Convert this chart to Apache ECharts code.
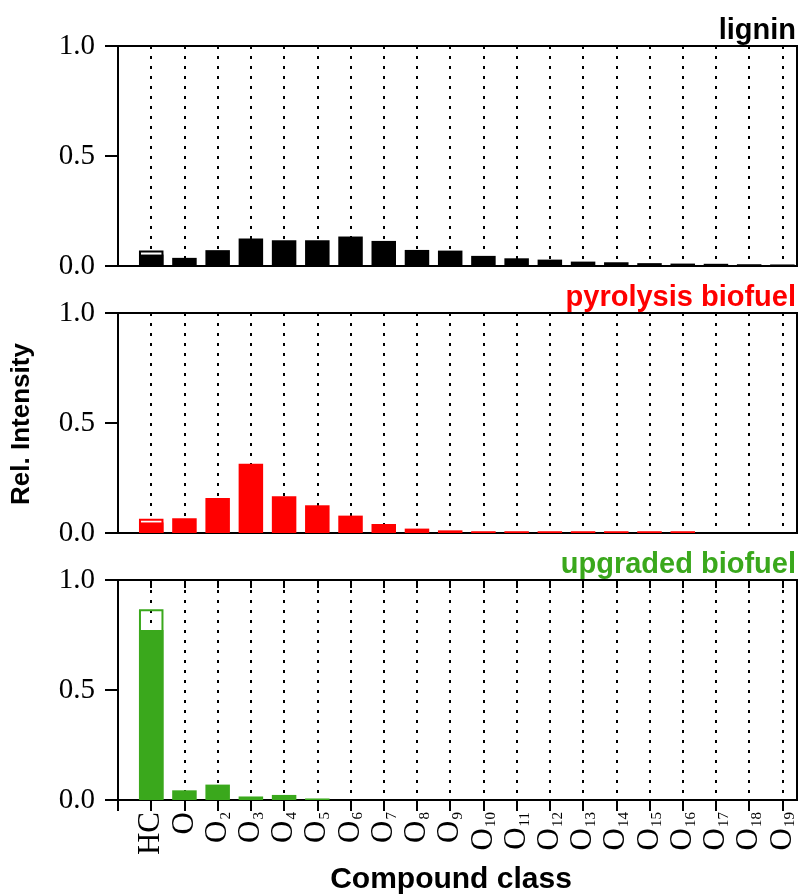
<!DOCTYPE html>
<html>
<head>
<meta charset="utf-8">
<script src="https://cdn.jsdelivr.net/npm/echarts@6/dist/echarts.min.js"></script>
<style>
  html, body { margin: 0; padding: 0; background: #fff; }
  #chart { width: 802px; height: 894px; }
</style>
</head>
<body>
<div id="chart"></div>
<script>
// Compound classes along the x axis
const categories = ['HC', 'O', 'O2', 'O3', 'O4', 'O5', 'O6', 'O7', 'O8', 'O9',
  'O10', 'O11', 'O12', 'O13', 'O14', 'O15', 'O16', 'O17', 'O18', 'O19'];

// Relative intensities (filled bars); HC total shown as an outlined bar
const ligninValues = [0.052, 0.037, 0.072, 0.125, 0.117, 0.117, 0.134, 0.114, 0.073, 0.070,
  0.046, 0.035, 0.029, 0.020, 0.017, 0.013, 0.011, 0.010, 0.008, 0.007];
const ligninHCTotal = 0.071;

const pyrolysisValues = [0.048, 0.067, 0.159, 0.315, 0.167, 0.126, 0.079, 0.041, 0.020, 0.012,
  0.008, 0.008, 0.008, 0.008, 0.008, 0.008, 0.008, 0, 0, 0];
const pyrolysisHCTotal = 0.065;

const upgradedValues = [0.773, 0.044, 0.070, 0.016, 0.023, 0.007, 0, 0, 0, 0,
  0, 0, 0, 0, 0, 0, 0, 0, 0, 0];
const upgradedHCTotal = 0.867;

const yTicks = [0, 0.5, 1.0];

const panels = [
  { name: 'lignin', color: '#000000', values: ligninValues, hcTotal: ligninHCTotal },
  { name: 'pyrolysis biofuel', color: '#ff0000', values: pyrolysisValues, hcTotal: pyrolysisHCTotal },
  { name: 'upgraded biofuel', color: '#3aa81c', values: upgradedValues, hcTotal: upgradedHCTotal }
];

const gridTops = [46, 313, 580];
const gridHeight = 220;
const X_MIN = -1, X_MAX = 19.44;
// tick positions: the left frame edge plus one per compound class
const tickPositions = [-1].concat(categories.map((c, k) => k));

const serif = 'Liberation Serif';
const sans = 'Liberation Sans';

function classLabel(v) {
  if (Math.abs(v - Math.round(v)) > 1e-6) return '';
  const i = Math.round(v);
  if (i < 0 || i >= categories.length) return '';
  const c = categories[i];
  const m = c.match(/^([A-Z]+)(\d*)$/);
  if (!m[2]) return '{m|' + m[1] + '}';
  return '{m|' + m[1] + '}{s|' + m[2] + '}';
}

const grids = gridTops.map(t => ({
  left: 118, right: 5, top: t, height: gridHeight,
  show: true, borderColor: '#000', borderWidth: 2
}));

const xAxes = panels.map((p, i) => ({
  type: 'value', gridIndex: i, min: X_MIN, max: X_MAX, interval: 1,
  axisLine: { show: true, onZero: false, lineStyle: { color: '#000', width: 2 } },
  axisTick: { show: i === 2, inside: false, length: 11, customValues: tickPositions,
    lineStyle: { color: '#000', width: 2 } },
  axisLabel: i === 2 ? {
    show: true, rotate: 90, margin: 12,
    formatter: classLabel,
    rich: {
      m: { fontFamily: serif, fontSize: 31, color: '#000' },
      s: { fontFamily: serif, fontSize: 15, color: '#000', verticalAlign: 'bottom', padding: [12, 0, 0, 1] }
    }
  } : { show: false },
  splitLine: { show: true, lineStyle: { color: '#000', width: 2, type: [3, 7] } }
}));
// inner half of the crossing ticks on the bottom panel
xAxes.push({
  type: 'value', gridIndex: 2, min: X_MIN, max: X_MAX, interval: 1,
  axisLine: { show: false, onZero: false },
  axisTick: { show: true, inside: true, length: 8, customValues: tickPositions,
    lineStyle: { color: '#000', width: 2 } },
  axisLabel: { show: false },
  splitLine: { show: false }
});

const yAxes = panels.map((p, i) => ({
  type: 'value', gridIndex: i, min: 0, max: 1, interval: 0.5,
  axisLine: { show: true, onZero: false, lineStyle: { color: '#000', width: 2 } },
  axisTick: { show: true, inside: false, length: 13, lineStyle: { color: '#000', width: 2 } },
  axisLabel: {
    show: true, margin: 23, fontFamily: serif, fontSize: 29, color: '#000',
    formatter: v => yTicks.some(t => Math.abs(t - v) < 1e-9) ? v.toFixed(1) : ''
  },
  splitLine: { show: false }
}));

const series = [];
panels.forEach((p, i) => {
  series.push({
    type: 'bar', xAxisIndex: i, yAxisIndex: i, barWidth: 24.5, barGap: '-100%',
    silent: true,
    itemStyle: { color: 'rgba(0,0,0,0)', borderColor: p.color, borderWidth: 2 },
    data: [[0, p.hcTotal]]
  });
  series.push({
    type: 'bar', xAxisIndex: i, yAxisIndex: i, barWidth: 24.5, barGap: '-100%',
    silent: true,
    itemStyle: { color: p.color },
    data: p.values.map((v, k) => [k, v])
  });
});

const titles = panels.map((p, i) => ({
  text: p.name, right: 1, top: gridTops[i] - 35,
  textStyle: { fontFamily: sans, fontWeight: 'bold', fontSize: 29, color: p.color }
}));

const chart = echarts.init(document.getElementById('chart'), null, { renderer: 'canvas' });
chart.setOption({
  animation: false,
  backgroundColor: '#fff',
  title: titles,
  grid: grids,
  xAxis: xAxes,
  yAxis: yAxes,
  series: series,
  graphic: [
    {
      type: 'text', x: 22, y: 424, rotation: Math.PI / 2,
      style: { text: 'Rel. Intensity', fontFamily: sans, fontWeight: 'bold', fontSize: 26,
        fill: '#000', align: 'center', verticalAlign: 'middle' }
    },
    {
      type: 'text', x: 451, y: 880,
      style: { text: 'Compound class', fontFamily: sans, fontWeight: 'bold', fontSize: 30,
        fill: '#000', align: 'center', verticalAlign: 'middle' }
    }
  ]
});
</script>
</body>
</html>
